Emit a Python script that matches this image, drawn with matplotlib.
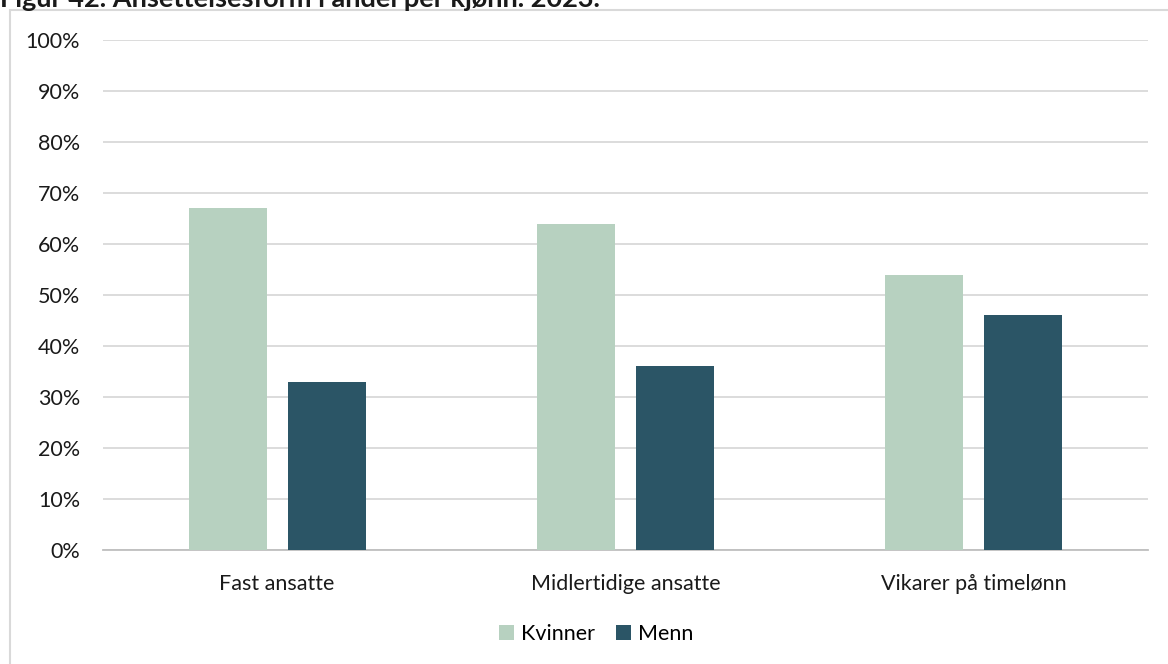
import numpy as np
import matplotlib.pyplot as plt
from matplotlib.patches import Rectangle

categories = ["Fast ansatte", "Midlertidige ansatte", "Vikarer på timelønn"]
kvinner = [0.67, 0.64, 0.54]
menn = [0.33, 0.36, 0.46]
series_names = ["Kvinner", "Menn"]
colors = ["#B7D1C0", "#2B5566"]
title = "Figur 42. Ansettelsesform i andel per kjønn. 2023."

plt.rcParams['font.family'] = ['Lato', 'DejaVu Sans']

fig = plt.figure(figsize=(11.68, 6.64), dpi=100)

# outer chart frame (partly off canvas)
fig.patches.append(Rectangle((10 / 1168, -0.05), 1.2, 1 - 10 / 664 + 0.05,
                             transform=fig.transFigure, fill=False,
                             edgecolor="#D9D9D9", linewidth=1.5))

# title, top half clipped off the canvas like the reference
fig.text(0.0, 1 - 7 / 664, title, fontsize=19.5, fontweight="bold",
         color="#1a1a1a", va="baseline", ha="left")

ax = fig.add_axes([103 / 1168, 1 - 550 / 664, 1045 / 1168, 510 / 664])

x = np.arange(len(categories))
w = 0.224
off = 0.142
ax.bar(x - off, kvinner, w, color=colors[0], label=series_names[0], zorder=3)
ax.bar(x + off, menn, w, color=colors[1], label=series_names[1], zorder=3)

ax.set_xlim(-0.5, len(categories) - 0.5)
ax.set_ylim(0, 1)
ax.set_yticks(np.arange(0, 1.01, 0.1))
ax.set_yticklabels([f"{int(round(v * 100))}%" for v in np.arange(0, 1.01, 0.1)])
ax.set_xticks(x)
ax.set_xticklabels(categories)
ax.tick_params(axis="both", length=0, labelsize=15.5, colors="#1a1a1a")
ax.tick_params(axis="y", pad=16.5)
ax.tick_params(axis="x", pad=17)
ax.yaxis.grid(True, color="#D9D9D9", linewidth=1.3, zorder=0)
for s in ["top", "right", "left"]:
    ax.spines[s].set_visible(False)
ax.spines["bottom"].set_color("#BFBFBF")
ax.spines["bottom"].set_linewidth(1.3)

fig.legend(loc="center", bbox_to_anchor=(596 / 1168, 1 - 634 / 664), ncol=2,
           frameon=False, fontsize=15.5, handlelength=0.7, handleheight=0.7,
           handletextpad=0.3, columnspacing=1.0)

fig.savefig("out.png", dpi=100)
